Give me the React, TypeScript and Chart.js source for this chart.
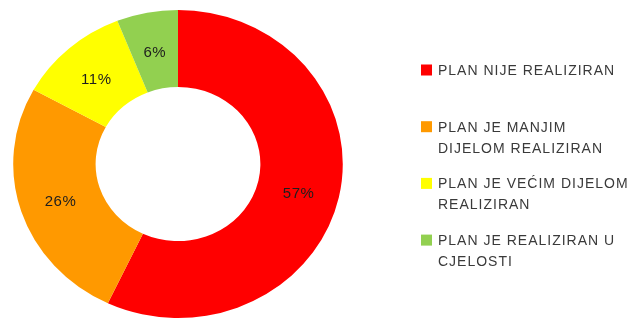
import React, { useEffect, useRef } from "react";
import { Chart, registerables } from "chart.js";

Chart.register(...registerables);

// ---- data ----
const categories: string[][] = [
  ["PLAN NIJE REALIZIRAN"],
  ["PLAN JE MANJIM", "DIJELOM REALIZIRAN"],
  ["PLAN JE VEĆIM DIJELOM", "REALIZIRAN"],
  ["PLAN JE REALIZIRAN U", "CJELOSTI"],
];
const values: number[] = [57, 26, 11, 6];
const colors: string[] = ["#FF0000", "#FF9900", "#FFFF00", "#92D050"];

// ---- styling constants ----
const STRETCH_X = 1.07;
const FONT = "Liberation Sans, Arial, sans-serif";
const TEXT_COLOR = "#3a3a3a";

const stretchPlugin = {
  id: "stretchDoughnut",
  beforeDatasetsDraw(chart: any) {
    const arc = chart.getDatasetMeta(0).data[0];
    if (!arc) return;
    const ctx = chart.ctx;
    ctx.save();
    ctx.translate(arc.x, arc.y);
    ctx.scale(STRETCH_X, 1);
    ctx.translate(-arc.x, -arc.y);
  },
  afterDatasetsDraw(chart: any) {
    chart.ctx.restore();
  },
};

const labelPlugin = {
  id: "sliceLabels",
  afterDraw(chart: any) {
    const ctx = chart.ctx;
    const meta = chart.getDatasetMeta(0);
    const data = chart.data.datasets[0].data as number[];
    const total = data.reduce((a, b) => a + b, 0);
    ctx.save();
    ctx.font = `15px ${FONT}`;
    (ctx as any).letterSpacing = "0.5px";
    ctx.fillStyle = "#1e1e1e";
    ctx.textAlign = "center";
    ctx.textBaseline = "middle";
    meta.data.forEach((arc: any, i: number) => {
      const p = arc.tooltipPosition();
      const x = arc.x + (p.x - arc.x) * STRETCH_X;
      const y = p.y + (i === 0 ? 5 : 2);
      ctx.fillText(Math.round((data[i] / total) * 100) + "%", x, y);
    });
    ctx.restore();
  },
};

const legendPlugin = {
  id: "sideLegend",
  afterDraw(chart: any) {
    const ctx = chart.ctx;
    const labels = chart.data.labels as string[][];
    const bg = chart.data.datasets[0].backgroundColor as string[];
    const x0 = 421;
    const y0 = 70;
    const itemStep = 56.7;
    const lineStep = 21;
    ctx.save();
    ctx.font = `14px ${FONT}`;
    (ctx as any).letterSpacing = "1px";
    ctx.textBaseline = "middle";
    ctx.textAlign = "left";
    labels.forEach((lines, i) => {
      const yc = y0 + i * itemStep;
      ctx.fillStyle = bg[i];
      ctx.fillRect(x0, yc - 5.5, 11, 11);
      ctx.fillStyle = TEXT_COLOR;
      lines.forEach((ln, j) => ctx.fillText(ln, x0 + 17, yc + j * lineStep + 1));
    });
    ctx.restore();
  },
};

export default function App() {
  const ref = useRef<HTMLCanvasElement | null>(null);
  useEffect(() => {
    if (!ref.current) return;
    const chart = new Chart(ref.current, {
      type: "doughnut",
      data: {
        labels: categories as any,
        datasets: [
          {
            data: values,
            backgroundColor: colors,
            borderWidth: 0,
          },
        ],
      },
      options: {
        animation: false,
        responsive: true,
        maintainAspectRatio: false,
        cutout: "50%",
        layout: { padding: { left: 24, right: 304, top: 10, bottom: 1 } },
        plugins: {
          legend: { display: false },
          tooltip: { enabled: false },
        },
      },
      plugins: [stretchPlugin, labelPlugin, legendPlugin],
    });
    return () => chart.destroy();
  }, []);
  return (
    <div style={{ position: "fixed", left: 0, top: 0, width: 636, height: 319, background: "#fff" }}>
      <canvas ref={ref} />
    </div>
  );
}
